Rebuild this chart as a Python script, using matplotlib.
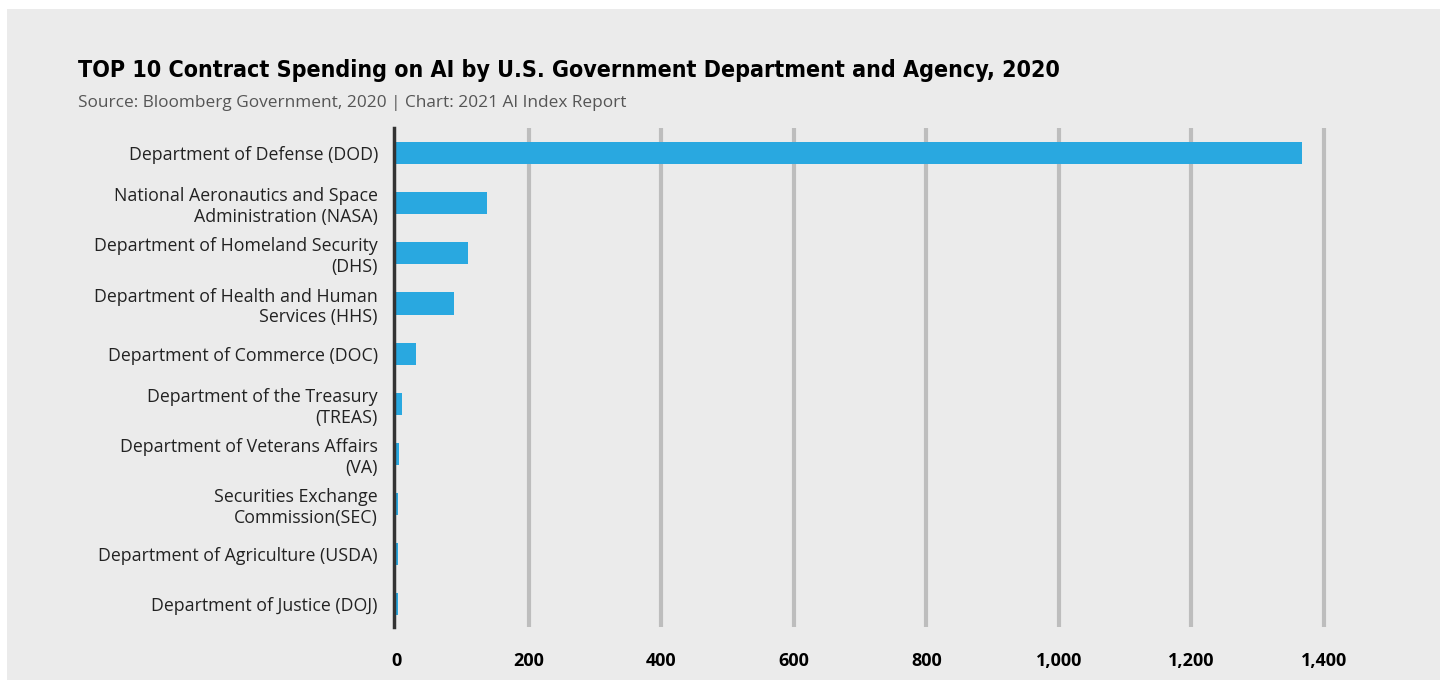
import matplotlib.pyplot as plt
import numpy as np

agencies = [
    "Department of Defense (DOD)",
    "National Aeronautics and Space\nAdministration (NASA)",
    "Department of Homeland Security\n(DHS)",
    "Department of Health and Human\nServices (HHS)",
    "Department of Commerce (DOC)",
    "Department of the Treasury\n(TREAS)",
    "Department of Veterans Affairs\n(VA)",
    "Securities Exchange\nCommission(SEC)",
    "Department of Agriculture (USDA)",
    "Department of Justice (DOJ)",
]
spending = [1367, 137, 108, 87, 30, 9, 4, 3.5, 3.5, 3.5]
xticks = [0, 200, 400, 600, 800, 1000, 1200, 1400]
xticklabels = ["0", "200", "400", "600", "800", "1,000", "1,200", "1,400"]

bg = "#ebebeb"
fig = plt.figure(figsize=(14.48, 6.85), dpi=100, facecolor="white")
# grey panel
fig.patches.append(plt.Rectangle((7 / 1448, 5 / 685), 1433 / 1448, 671 / 685,
                                 transform=fig.transFigure, facecolor=bg,
                                 edgecolor="none", zorder=-1))

ax = fig.add_axes([396 / 1448, 1 - 627 / 685, (1340 - 396) / 1448, (627 - 128) / 685])
ax.set_facecolor(bg)

y = np.arange(len(agencies))
ax.barh(y, spending, height=0.44, color="#29a8e0", zorder=3)
ax.set_xlim(0, 1400 * (1340 - 396) / (1324 - 396))
ax.set_ylim(9.45, -0.5)

for t in xticks[1:]:
    ax.axvline(t, color="#bdbdbd", lw=3, zorder=1)
# axis line sits just left of the bars
ax.axvline(-2.5, color="#333333", lw=2.5, zorder=4, clip_on=False)

for s in ax.spines.values():
    s.set_visible(False)

ax.set_xticks(xticks)
ax.set_xticklabels(xticklabels, fontsize=13, fontweight="bold", family="Open Sans")
ax.tick_params(axis="x", length=0, pad=18)
ax.set_yticks(y)
ax.set_yticklabels(agencies, fontsize=12.8, family="Open Sans", color="#222222")
ax.tick_params(axis="y", length=0, pad=13)

fig.text(78 / 1448, 1 - 70 / 685,
         "TOP 10 Contract Spending on AI by U.S. Government Department and Agency, 2020",
         fontsize=16.7, fontweight="bold", fontstretch="condensed", family="DejaVu Sans",
         va="center", ha="left")
fig.text(78 / 1448, 1 - 103 / 685,
         "Source: Bloomberg Government, 2020 | Chart: 2021 AI Index Report",
         fontsize=12.4, color="#555555", family="Open Sans", va="center", ha="left")

fig.savefig("out.png", dpi=100, facecolor="white")
